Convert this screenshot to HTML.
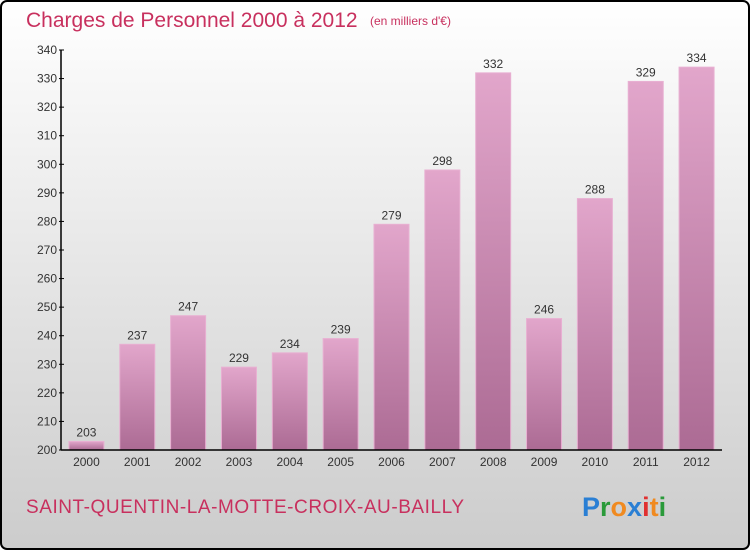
<!DOCTYPE html>
<html><head><meta charset="utf-8"><style>
body{margin:0}
#c{position:relative;width:750px;height:550px;overflow:hidden}
</style></head><body>
<div id="c">
<svg id="s" width="750" height="550">
<defs>
<linearGradient id="bg" x1="0" y1="0" x2="0" y2="1"><stop offset="0" stop-color="#ffffff"/><stop offset="1" stop-color="#cccccc"/></linearGradient>
<linearGradient id="bar" x1="0" y1="0" x2="0" y2="1"><stop offset="0" stop-color="#e2a6cb"/><stop offset="1" stop-color="#ac6b94"/></linearGradient>
</defs>
<rect x="1" y="1" width="748" height="548" rx="6" fill="url(#bg)" stroke="#000" stroke-width="2"/>
<text x="26" y="27" font-family="Liberation Sans, sans-serif" font-size="21" fill="#c8305e">Charges de Personnel 2000 à 2012</text>
<text x="370" y="25" font-family="Liberation Sans, sans-serif" font-size="12" fill="#c8305e">(en milliers d'€)</text>
<g id="plot"></g>
<text x="26" y="513" font-family="Liberation Sans, sans-serif" font-size="19" fill="#c8305e" textLength="438">SAINT-QUENTIN-LA-MOTTE-CROIX-AU-BAILLY</text>
<text x="582" y="516" font-family="Liberation Sans, sans-serif" font-size="27" font-weight="bold"><tspan fill="#2a7fd4">P</tspan><tspan fill="#2a9a3a">r</tspan><tspan fill="#f08a20">o</tspan><tspan fill="#2a7fd4">x</tspan><tspan fill="#e03030">i</tspan><tspan fill="#f08a20">t</tspan><tspan fill="#2a9a3a">i</tspan></text>
</svg>
</div>
<script>
const categories=["2000","2001","2002","2003","2004","2005","2006","2007","2008","2009","2010","2011","2012"];
const values=[203,237,247,229,234,239,279,298,332,246,288,329,334];
const yTicks=[200,210,220,230,240,250,260,270,280,290,300,310,320,330,340];
const ns="http://www.w3.org/2000/svg";
const g=document.getElementById('plot');
const x0=61,x1=722,yb=450,yt=50,ymin=200,ymax=340;
const y=v=>yb-(v-ymin)/(ymax-ymin)*(yb-yt);
const slot=(x1-x0)/categories.length;
const xc=i=>x0+slot*(i+0.5);
function mk(t,a){const e=document.createElementNS(ns,t);for(const k in a)e.setAttribute(k,a[k]);g.appendChild(e);return e;}
values.forEach((v,i)=>{
 const r=mk('rect',{x:xc(i)-17.5,y:y(v),width:35,height:yb-y(v),fill:'url(#bar)',stroke:'#e8b0d2','stroke-width':1});
 
 
 const t=mk('text',{x:xc(i),y:y(v)-5,'text-anchor':'middle','font-family':'Liberation Sans, sans-serif','font-size':12,fill:'#333'});
 t.textContent=v;
 
 
 const c=mk('text',{x:xc(i),y:466,'text-anchor':'middle','font-family':'Liberation Sans, sans-serif','font-size':12,fill:'#333'});
 c.textContent=categories[i];
 
 
});
yTicks.forEach(v=>{
 const l=mk('line',{x1:x0-2,x2:x0+3,y1:y(v),y2:y(v),stroke:'#000'});
 
 
 const t=mk('text',{x:x0-4,y:y(v)+4,'text-anchor':'end','font-family':'Liberation Sans, sans-serif','font-size':12,fill:'#333'});
 t.textContent=v;
 
 
});
const ya=mk('line',{x1:x0,x2:x0,y1:yt,y2:yb,stroke:'#000','stroke-width':1.5});


const xa=mk('line',{x1:x0,x2:x1,y1:yb,y2:yb,stroke:'#000','stroke-width':1.5});


</script>
</body></html>
